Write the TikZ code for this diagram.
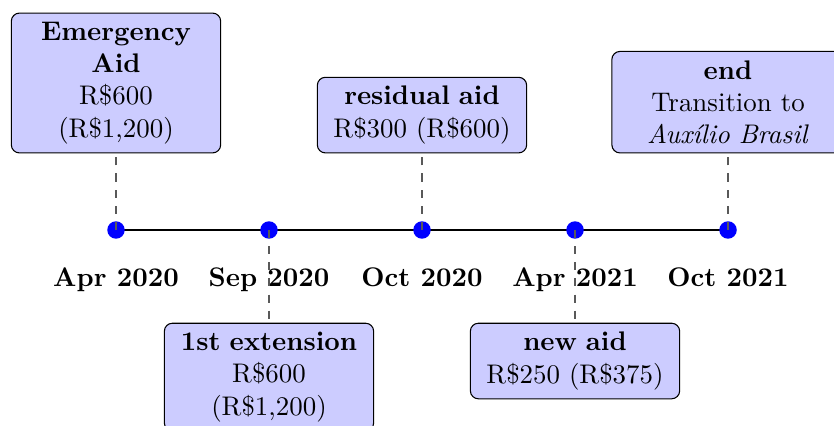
\documentclass[tikz,border=0pt]{standalone}
\usepackage{tikz}
\usetikzlibrary{positioning,backgrounds}

\begin{document}
\begin{tikzpicture}[x=0.3717pt,y=-0.3717pt,
	event/.style={circle,fill=blue,inner sep=0pt,minimum size=6.5pt},
	date/.style={font=\bfseries,inner sep=0.3333em},
	note/.style={rectangle,draw,rounded corners=3pt,fill=blue!20,text width=2.5cm,align=center},
	wide/.style={note,text width=2.8cm},
	link/.style={dashed,draw=black!65},
	axis/.style={thick}
	]
\useasboundingbox (0,0) rectangle (834,426);

\node [event] (d1) at (116,230) {};
\node [event] (d2) at (269,230) {};
\node [event] (d3) at (422,230) {};
\node [event] (d4) at (575,230) {};
\node [event] (d5) at (728,230) {};

\begin{scope}[on background layer]
\draw [axis] (d1.center) -- (d5.center);
\end{scope}

\node [date] (l1) [below = 7pt of d1] {Apr 2020};
\node [date] (l2) [below = 7pt of d2] {Sep 2020};
\node [date] (l3) [below = 7pt of d3] {Oct 2020};
\node [date] (l4) [below = 7pt of d4] {Apr 2021};
\node [date] (l5) [below = 7pt of d5] {Oct 2021};

\node [note] (aid) [above = 25pt of d1] {\textbf{Emergency Aid}\\R\$600 (R\$1,200)};
\node [note] (ext) [below = 31pt of d2] {\textbf{1st extension}\\R\$600 (R\$1,200)};
\node [note] (res) [above = 25pt of d3] {\textbf{residual aid}\\R\$300 (R\$600)};
\node [note] (new) [below = 31pt of d4] {\textbf{new aid}\\R\$250 (R\$375)};
\node [wide] (end) [above = 25pt of d5] {\textbf{end}\\Transition to\\\textit{Auxílio Brasil}};

\draw [link] (d1.center) -- (aid);
\draw [link] (d2.center) -- (ext);
\draw [link] (d3.center) -- (res);
\draw [link] (d4.center) -- (new);
\draw [link] (d5.center) -- (end);
\end{tikzpicture}
\end{document}
